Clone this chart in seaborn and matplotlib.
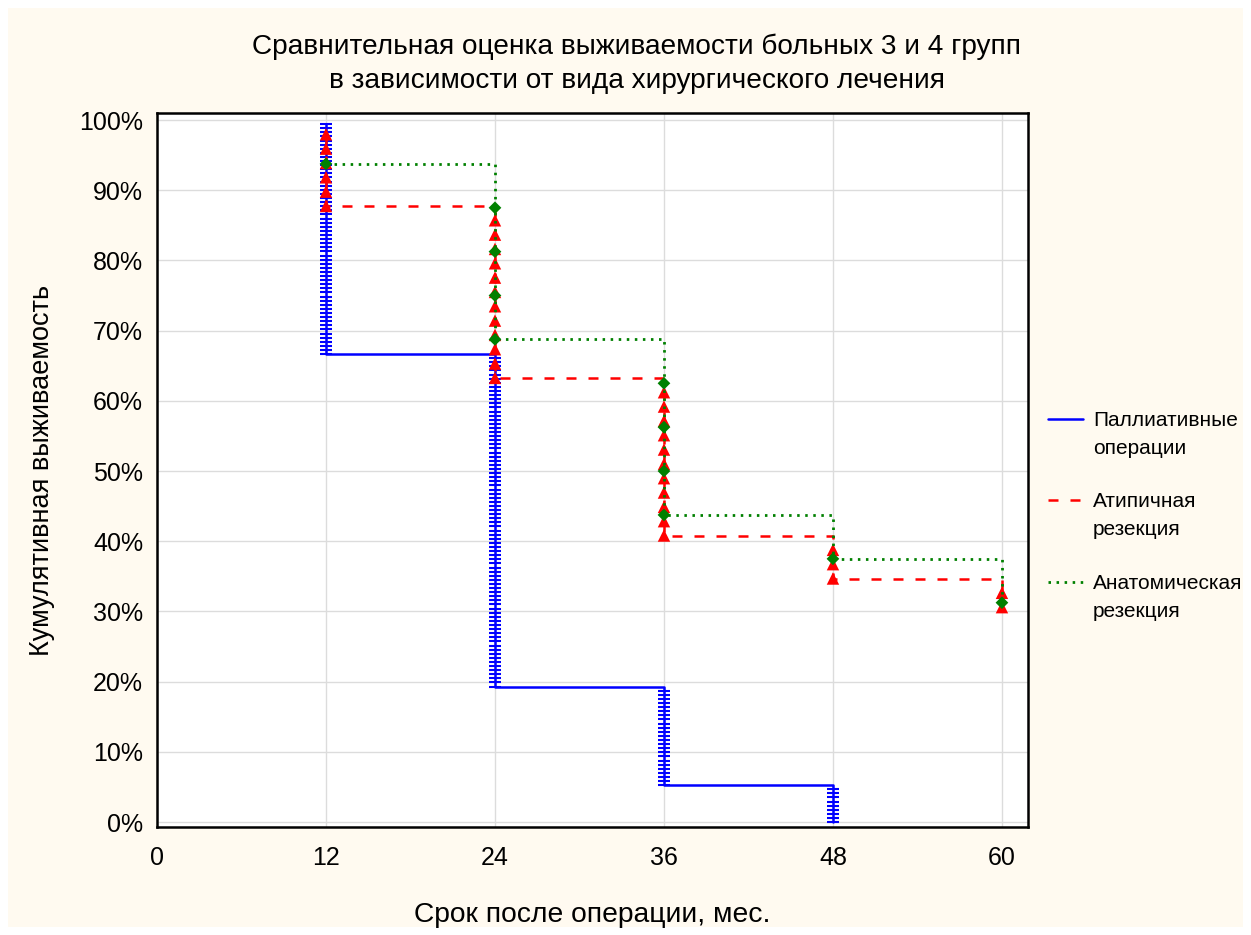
import numpy as np
import pandas as pd
import matplotlib
matplotlib.use("Agg")
import matplotlib.pyplot as plt
from matplotlib.lines import Line2D
from matplotlib.patches import Rectangle
import seaborn as sns

# ---- data ----
times = [12, 24, 36, 48, 60]
groups = ["Паллиативные операции", "Атипичная резекция", "Анатомическая резекция"]
legend_line1 = ["Паллиативные", "Атипичная", "Анатомическая"]
legend_line2 = ["операции", "резекция", "резекция"]
n_patients = [171, 49, 16]
deaths_pall = [57, 81, 24, 9, 0]
deaths_atyp = [6, 12, 11, 3, 2]
deaths_anat = [1, 4, 4, 1, 1]
x_ticks = [0, 12, 24, 36, 48, 60]
y_ticks = [0, 0.1, 0.2, 0.3, 0.4, 0.5, 0.6, 0.7, 0.8, 0.9, 1.0]
y_tick_labels = ["0%", "10%", "20%", "30%", "40%", "50%", "60%", "70%", "80%", "90%", "100%"]
title = "Сравнительная оценка выживаемости больных 3 и 4 групп\nв зависимости от вида хирургического лечения"
x_label = "Срок после операции, мес."
y_label = "Кумулятивная выживаемость"

# ---- build event table (Kaplan-Meier levels, one row per death) ----
rows = []
for g, n, deaths in zip(groups, n_patients, [deaths_pall, deaths_atyp, deaths_anat]):
    alive = n
    for t, d in zip(times, deaths):
        for _ in range(d):
            alive -= 1
            rows.append({"group": g, "time": t, "surv": alive / n})
df = pd.DataFrame(rows)

# ---- style ----
sns.set_theme(style="white")
plt.rcParams["font.family"] = ["Liberation Sans", "DejaVu Sans"]

W, H, DPI = 1251, 935, 100
fig = plt.figure(figsize=(W / DPI, H / DPI), dpi=DPI, facecolor="white")
fig.add_artist(Rectangle((8 / W, 8 / H), 1 - 16 / W, 1 - 16 / H, transform=fig.transFigure,
                         facecolor="#fffaf0", edgecolor="none", zorder=-10))
ax = fig.add_axes([157 / W, 1 - 827 / H, (1028 - 157) / W, (827 - 113) / H])
ax.set_facecolor("white")

colors = ["#0000ff", "#ff0000", "#008000"]
line_w = [1.8, 1.8, 2.0]
styles = [dict(linestyle="-"), dict(dashes=(4, 4.8)), dict(dashes=(0.9, 2.0))]
markers = [dict(marker="_", s=75, linewidth=1.5),
           dict(marker="^", s=80, linewidth=0),
           dict(marker="D", s=42, linewidth=0)]

for i, g in enumerate(groups):
    sub = df[df["group"] == g]
    sns.lineplot(data=sub, x="time", y="surv", estimator=None, sort=False,
                 drawstyle="steps-post", color=colors[i], linewidth=line_w[i],
                 ax=ax, zorder=3 + 2 * i, **styles[i])
    sns.scatterplot(data=sub, x="time", y="surv", color=colors[i], ax=ax,
                    zorder=4 + 2 * i, edgecolor=colors[i] if i == 0 else "none",
                    **markers[i])

ax.set_xlim(0, 61.85)
ax.set_ylim(-0.007, 1.01)
ax.set_xticks(x_ticks)
ax.set_xticklabels([str(v) for v in x_ticks])
ax.set_yticks(y_ticks)
ax.set_yticklabels(y_tick_labels)
ax.grid(True, color="#dcdcdc", linewidth=1.0)
ax.set_axisbelow(True)
for sp in ax.spines.values():
    sp.set_visible(True)
    sp.set_color("black")
    sp.set_linewidth(1.8)
ax.tick_params(axis="both", direction="in", length=5, width=1.5, colors="black",
               labelsize=18, labelcolor="black")
ax.tick_params(axis="x", pad=14)
ax.tick_params(axis="y", pad=10)
ax.set_xlabel(x_label, fontsize=20.3, labelpad=23, color="black")
ax.set_ylabel(y_label, fontsize=19.5, labelpad=17, color="black")

fig.text(637 / W, 1 - 63.5 / H, title, ha="center", va="center", fontsize=20.2,
         linespacing=1.38, color="black")

# manual legend (handle aligned with first text line)
leg_y = [419, 500, 582]
for i in range(3):
    y = 1 - leg_y[i] / H
    ln = Line2D([1048 / W, 1083 / W], [y, y], transform=fig.transFigure,
                color=colors[i], linewidth=line_w[i], **styles[i])
    fig.add_artist(ln)
    fig.text(1093 / W, y - 1.5 / H, legend_line1[i], ha="left", va="center",
             fontsize=15, color="black")
    fig.text(1093 / W, y - 29.5 / H, legend_line2[i], ha="left", va="center",
             fontsize=15, color="black")

fig.savefig("out.png", dpi=DPI, facecolor=fig.get_facecolor())
